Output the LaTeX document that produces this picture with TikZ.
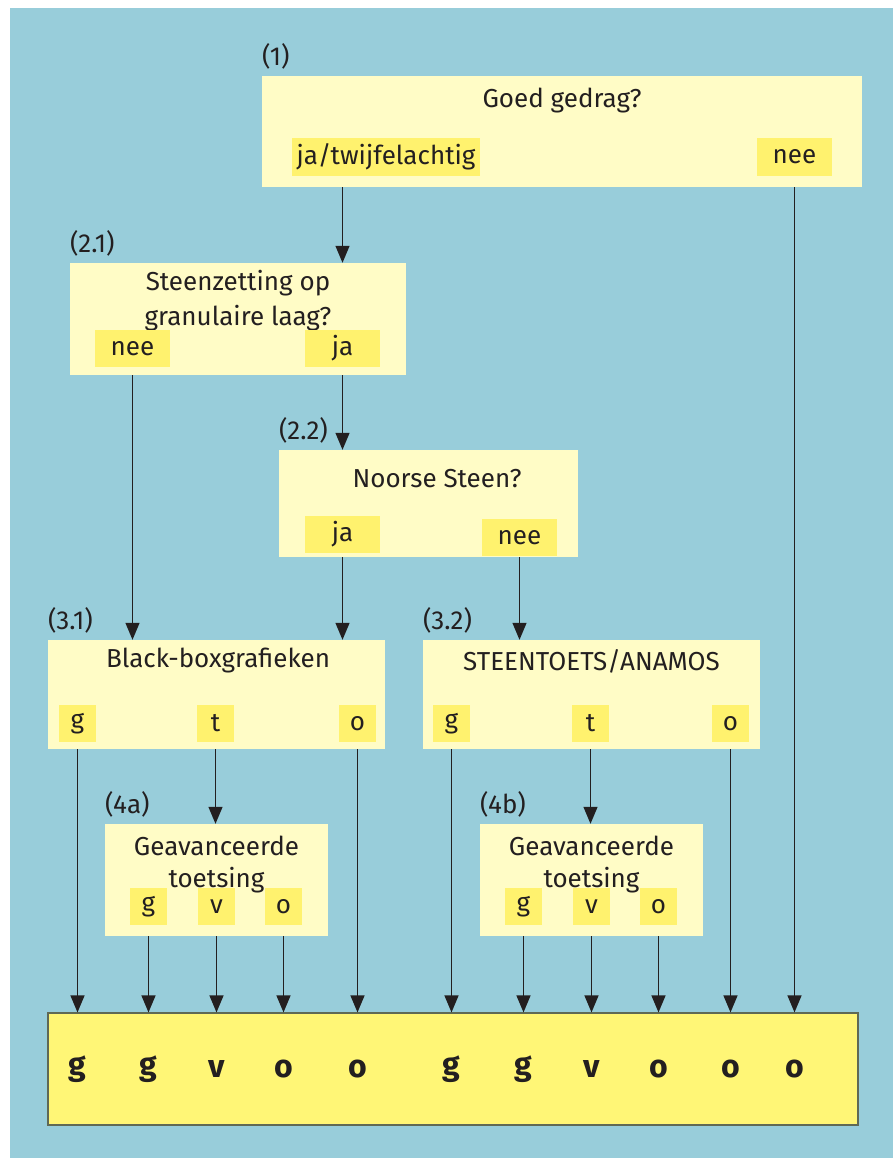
\documentclass[tikz,border=0pt]{standalone}
\usepackage{fontspec}
\setmainfont{Fira Sans}
\usetikzlibrary{arrows.meta}
\definecolor{bgblue}{RGB}{152,205,218}
\definecolor{pale}{RGB}{255,252,198}
\definecolor{hl}{RGB}{255,242,110}
\definecolor{bright}{RGB}{255,246,118}
\definecolor{edge}{RGB}{95,105,85}
\definecolor{ink}{RGB}{35,31,32}
\begin{document}
\begin{tikzpicture}[x=1pt,y=-1pt,
  box/.style={fill=pale,inner sep=0pt},
  hlbox/.style={fill=hl,inner sep=0pt,text=ink,font=\fontsize{26}{30}\selectfont},
  tag/.style={anchor=south west,inner sep=0pt,text=ink,font=\fontsize{26}{30}\selectfont},
  ttl/.style={inner sep=0pt,align=center,text=ink,font=\fontsize{26}{35}\selectfont},
  res/.style={inner sep=0pt,text=ink,font=\fontsize{32}{36}\selectfont\bfseries},
  arr/.style={draw=ink,line width=1.3pt,-{Triangle[width=14pt,length=17pt]}}]
\useasboundingbox (0,0) rectangle (893,1158);
\fill[bgblue] (10,8) rectangle (893,1158);

% boxes
\node[box,minimum width=600pt,minimum height=111pt] (b1) at (562,131.5) {};
\node[box,minimum width=336pt,minimum height=112pt] (b21) at (238,319) {};
\node[box,minimum width=299pt,minimum height=107pt] (b22) at (428.5,503.5) {};
\node[box,minimum width=337pt,minimum height=109pt] (b31) at (216.5,694.5) {};
\node[box,minimum width=337pt,minimum height=109pt] (b32) at (591.5,694.5) {};
\node[box,minimum width=223pt,minimum height=112pt] (b4a) at (216.5,880) {};
\node[box,minimum width=223pt,minimum height=112pt] (b4b) at (591.5,880) {};
\node[fill=bright,draw=edge,line width=1.2pt,inner sep=0pt,minimum width=810pt,minimum height=112pt] (bot) at (453,1069) {};

% tags
\node[tag] (t1) at ([yshift=6pt]b1.north west) {(1)};
\node[tag] (t21) at ([yshift=6pt]b21.north west) {(2.1)};
\node[tag] (t22) at ([yshift=6pt]b22.north west) {(2.2)};
\node[tag] (t31) at ([yshift=6pt]b31.north west) {(3.1)};
\node[tag] (t32) at ([yshift=6pt]b32.north west) {(3.2)};
\node[tag] (t4a) at ([yshift=6pt]b4a.north west) {(4a)};
\node[tag] (t4b) at ([yshift=6pt]b4b.north west) {(4b)};

% titles
\node[ttl] (q1) at (562,101) {Goed gedrag?};
\node[ttl] (q21) at (238,301) {Steenzetting op\\granulaire laag?};
\node[ttl] (q22) at (437,479) {Noorse Steen?};
\node[ttl] (q31) at (218,661) {Black-boxgrafieken};
\node[ttl] (q32) at (591.5,661) {STEENTOETS/ANAMOS};
\node[ttl,font=\fontsize{26}{32}\selectfont] (q4a) at (216.5,865) {Geavanceerde\\toetsing};
\node[ttl,font=\fontsize{26}{32}\selectfont] (q4b) at (591.5,865) {Geavanceerde\\toetsing};

% answer highlights
\node[hlbox,minimum width=188pt,minimum height=38pt] (b1ja) at (386,157) {ja/twijfelachtig};
\node[hlbox,minimum width=75pt,minimum height=38pt] (b1nee) at (794.5,157) {nee};
\node[hlbox,minimum width=75pt,minimum height=37pt] (b21nee) at (132.5,348.5) {nee};
\node[hlbox,minimum width=75pt,minimum height=37pt] (b21ja) at (342.5,348.5) {ja};
\node[hlbox,minimum width=75pt,minimum height=37pt] (b22ja) at (342.5,534.5) {ja};
\node[hlbox,minimum width=75pt,minimum height=37pt] (b22nee) at (519.5,537.5) {nee};
\node[hlbox,minimum width=37pt,minimum height=37pt] (b31g) at (77.5,723.5) {g};
\node[hlbox,minimum width=37pt,minimum height=37pt] (b31t) at (215.5,723.5) {t};
\node[hlbox,minimum width=37pt,minimum height=37pt] (b31o) at (357.5,723.5) {o};
\node[hlbox,minimum width=37pt,minimum height=37pt] (b32g) at (451.5,723.5) {g};
\node[hlbox,minimum width=37pt,minimum height=37pt] (b32t) at (590.5,723.5) {t};
\node[hlbox,minimum width=37pt,minimum height=37pt] (b32o) at (730.5,723.5) {o};
\node[hlbox,minimum width=37pt,minimum height=37pt] (b4ag) at (148.5,906.5) {g};
\node[hlbox,minimum width=37pt,minimum height=37pt] (b4av) at (216.5,906.5) {v};
\node[hlbox,minimum width=37pt,minimum height=37pt] (b4ao) at (283.5,906.5) {o};
\node[hlbox,minimum width=37pt,minimum height=37pt] (b4bg) at (523.5,906.5) {g};
\node[hlbox,minimum width=37pt,minimum height=37pt] (b4bv) at (591.5,906.5) {v};
\node[hlbox,minimum width=37pt,minimum height=37pt] (b4bo) at (658.5,906.5) {o};

% results
\node[res] (r1) at (b31g |- bot) {g};
\node[res] (r2) at (b4ag |- bot) {g};
\node[res] (r3) at (b4av |- bot) {v};
\node[res] (r4) at (b4ao |- bot) {o};
\node[res] (r5) at (b31o |- bot) {o};
\node[res] (r6) at (b32g |- bot) {g};
\node[res] (r7) at (b4bg |- bot) {g};
\node[res] (r8) at (b4bv |- bot) {v};
\node[res] (r9) at (b4bo |- bot) {o};
\node[res] (r10) at (b32o |- bot) {o};
\node[res] (r11) at (b1nee |- bot) {o};

% connectors
\draw[arr] (b21ja |- b1.south) -- (b21ja |- b21.north);
\draw[arr] (b1nee |- b1.south) -- (b1nee |- bot.north);
\draw[arr] (b21nee |- b21.south) -- (b21nee |- b31.north);
\draw[arr] (b21ja |- b21.south) -- (b21ja |- b22.north);
\draw[arr] (b22ja |- b22.south) -- (b22ja |- b31.north);
\draw[arr] (b22nee |- b22.south) -- (b22nee |- b32.north);
\draw[arr] (b31g |- b31.south) -- (b31g |- bot.north);
\draw[arr] (b31t |- b31.south) -- (b31t |- b4a.north);
\draw[arr] (b31o |- b31.south) -- (b31o |- bot.north);
\draw[arr] (b32g |- b32.south) -- (b32g |- bot.north);
\draw[arr] (b32t |- b32.south) -- (b32t |- b4b.north);
\draw[arr] (b32o |- b32.south) -- (b32o |- bot.north);
\draw[arr] (b4ag |- b4a.south) -- (b4ag |- bot.north);
\draw[arr] (b4av |- b4a.south) -- (b4av |- bot.north);
\draw[arr] (b4ao |- b4a.south) -- (b4ao |- bot.north);
\draw[arr] (b4bg |- b4b.south) -- (b4bg |- bot.north);
\draw[arr] (b4bv |- b4b.south) -- (b4bv |- bot.north);
\draw[arr] (b4bo |- b4b.south) -- (b4bo |- bot.north);
\end{tikzpicture}
\end{document}
